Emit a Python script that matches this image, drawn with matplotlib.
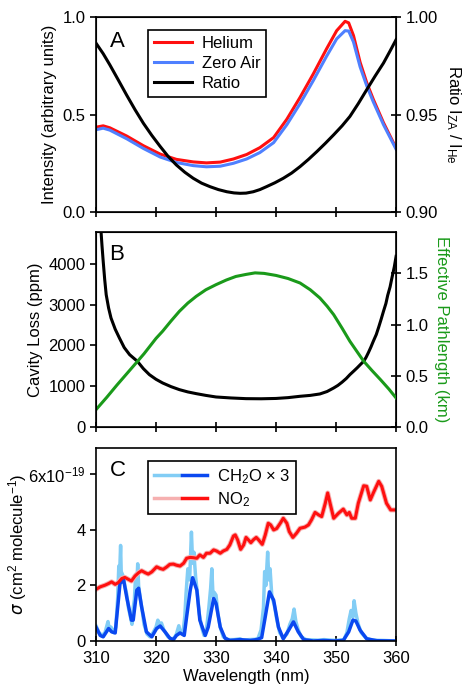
import matplotlib
matplotlib.use("Agg")
import matplotlib.pyplot as plt
from matplotlib.lines import Line2D
from matplotlib.legend_handler import HandlerTuple
from matplotlib.ticker import FixedLocator, FuncFormatter

plt.rcParams['font.family'] = ['Liberation Sans', 'DejaVu Sans']
plt.rcParams['mathtext.default'] = 'regular'
plt.rcParams['font.size'] = 12

# --- panel A: lamp spectra and ratio ---
wl_a = [310.0, 311.2, 312.3, 315.1, 317.9, 320.7, 323.4, 326.2, 328.4, 330.7, 332.9,
        335.1, 337.3, 339.6, 341.8, 344.0, 346.2, 348.4, 350.1, 351.5, 352.1, 352.9,
        354.0, 355.1, 356.2, 357.9, 360.0]
helium = [0.435, 0.442, 0.432, 0.390, 0.340, 0.297, 0.270, 0.257, 0.252, 0.256, 0.272,
          0.295, 0.330, 0.382, 0.476, 0.588, 0.708, 0.836, 0.930, 0.978, 0.970, 0.905,
          0.768, 0.664, 0.578, 0.458, 0.328]
zero_air = [0.422, 0.430, 0.420, 0.376, 0.326, 0.282, 0.254, 0.238, 0.232, 0.235, 0.250,
            0.272, 0.305, 0.356, 0.448, 0.556, 0.674, 0.798, 0.888, 0.930, 0.928, 0.872,
            0.745, 0.648, 0.565, 0.448, 0.322]
wl_ratio = [310.0, 311.2, 312.3, 313.7, 315.1, 316.5, 317.9, 319.3, 320.7, 322.0, 323.4,
            324.8, 326.2, 327.6, 329.0, 330.4, 331.8, 333.0, 334.0, 335.0, 336.2, 337.3,
            338.4, 339.8, 341.2, 342.6, 344.0, 345.4, 346.8, 348.2, 349.6, 351.0, 352.3,
            353.7, 355.1, 356.5, 357.9, 359.0, 360.0]
ratio = [0.9866, 0.9812, 0.9755, 0.9678, 0.9600, 0.9525, 0.9455, 0.9393, 0.9336, 0.9286,
         0.9241, 0.9204, 0.9173, 0.9148, 0.9130, 0.9115, 0.9104, 0.9098, 0.9096, 0.9097,
         0.9104, 0.9115, 0.9130, 0.9150, 0.9173, 0.9200, 0.9233, 0.9270, 0.9310, 0.9352,
         0.9396, 0.9442, 0.9490, 0.9556, 0.9627, 0.9697, 0.9764, 0.9826, 0.9884]

# --- panel B: cavity loss and effective pathlength ---
wl_loss = [310.6, 310.8, 311.0, 311.2, 311.45, 311.7, 312.1, 312.5, 313.2, 313.9, 314.7,
           315.6, 316.9, 317.9, 318.9, 320.0, 321.1, 322.5, 323.9, 325.3, 326.7, 328.3,
           330.0, 332.5, 335.0, 337.5, 340.0, 342.0, 344.0, 345.7, 347.3, 348.5, 349.6,
           350.3, 351.0, 351.7, 352.3, 353.0, 353.5, 354.1, 354.6, 355.0, 355.4, 355.8,
           356.2, 356.7, 357.1, 357.5, 357.9, 358.3, 358.6, 359.0, 359.3, 359.7, 360.0]
loss = [5200, 4880, 4450, 4066, 3620, 3247, 2920, 2675, 2400, 2184, 1950, 1775, 1611,
        1430, 1284, 1170, 1080, 990, 916, 860, 818, 775, 736, 712, 695, 692, 700, 720,
        753, 775, 810, 870, 957, 1020, 1100, 1190, 1284, 1380, 1450, 1540, 1611, 1710,
        1830, 1960, 2103, 2270, 2450, 2640, 2840, 3030, 3230, 3440, 3656, 3930, 4189]
wl_path = [310.0, 311.8, 313.5, 315.2, 316.9, 318.0, 319.0, 320.0, 321.1, 322.5, 323.9,
           325.3, 326.7, 328.3, 330.0, 331.7, 333.3, 335.0, 336.5, 338.0, 340.0, 342.0,
           344.0, 345.7, 347.3, 348.5, 349.6, 351.0, 352.3, 353.5, 354.6, 356.0, 357.4,
           358.8, 360.0]
pathlength = [0.169, 0.29, 0.41, 0.525, 0.64, 0.715, 0.79, 0.865, 0.935, 1.035, 1.13,
              1.21, 1.276, 1.34, 1.39, 1.435, 1.47, 1.49, 1.505, 1.50, 1.48, 1.45, 1.406,
              1.34, 1.26, 1.18, 1.097, 0.965, 0.837, 0.735, 0.642, 0.55, 0.462, 0.37, 0.283]

# --- panel C: cross sections (units of 1e-19 cm2 molecule-1) ---
wl_ch2o = [310.0, 310.7, 311.2, 312.1, 312.6, 313.2, 314.0, 314.6, 315.1, 315.9, 316.2,
           316.8, 317.1, 317.6, 318.4, 319.3, 320.1, 320.7, 321.5, 322.3, 322.9, 323.4,
           324.0, 324.7, 325.1, 325.7, 326.1, 326.8, 327.3, 328.2, 328.7, 329.6, 330.0,
           330.7, 331.5, 332.3, 334.0, 335.7, 336.8, 337.6, 338.2, 338.9, 339.6, 340.4,
           341.2, 342.1, 342.9, 343.7, 344.6, 346.2, 347.9, 349.6, 351.2, 352.1, 352.8,
           353.3, 354.0, 355.1, 356.8, 360.0]
ch2o_smooth = [0.50, 0.20, 0.15, 0.45, 0.33, 0.29, 2.07, 2.20, 1.60, 0.75, 0.75, 1.83,
               1.90, 1.23, 0.33, 0.15, 0.45, 0.54, 0.33, 0.10, 0.05, 0.20, 0.29, 0.20,
               0.87, 1.83, 2.28, 1.83, 0.75, 0.20, 0.50, 1.53, 1.35, 0.50, 0.10, 0.02,
               0.05, 0.02, 0.05, 0.12, 0.87, 1.77, 1.47, 0.50, 0.08, 0.39, 0.69, 0.33,
               0.05, 0.00, 0.02, 0.00, 0.02, 0.33, 0.75, 0.72, 0.39, 0.08, 0.01, 0.00]
wl_ch2o_hr = [310.0, 310.5, 311.0, 311.5, 312.0, 312.2, 312.5, 313.0, 313.3, 313.6, 313.8,
              313.9, 314.1, 314.2, 314.4, 314.6, 314.8, 315.1, 315.4, 315.7, 316.0, 316.2,
              316.4, 316.6, 316.8, 316.95, 317.1, 317.4, 317.7, 318.0, 318.5, 319.0, 319.5,
              320.0, 320.3, 320.6, 320.9, 321.3, 322.0, 322.5, 323.0, 323.4, 323.8, 324.1,
              324.5, 324.8, 325.0, 325.3, 325.6, 325.9, 326.1, 326.3, 326.6, 326.9, 327.2,
              327.6, 328.0, 328.4, 328.8, 329.1, 329.3, 329.5, 329.7, 330.0, 330.3, 330.7,
              331.2, 332.0, 333.0, 334.0, 334.5, 335.5, 336.5, 337.0, 337.5, 337.9, 338.1,
              338.3, 338.6, 338.8, 339.0, 339.3, 339.7, 340.1, 340.6, 341.2, 341.8, 342.3,
              342.7, 343.0, 343.3, 343.7, 344.2, 345.0, 347.0, 348.0, 350.0, 351.3, 351.8,
              352.2, 352.5, 352.8, 353.0, 353.3, 353.7, 354.2, 355.0, 356.0, 358.0, 360.0]
ch2o_hr = [0.55, 0.30, 0.20, 0.30, 0.70, 0.45, 0.50, 0.30, 0.50, 1.50, 2.70, 2.20, 3.44,
           2.50, 2.40, 2.30, 2.00, 1.70, 1.20, 0.90, 0.60, 1.20, 1.50, 2.40, 2.00, 2.78,
           2.00, 1.50, 1.10, 0.60, 0.25, 0.15, 0.30, 0.50, 0.75, 0.60, 0.65, 0.40, 0.15,
           0.08, 0.10, 0.25, 0.55, 0.30, 0.30, 0.90, 1.70, 2.60, 2.20, 3.92, 2.80, 3.20,
           2.30, 1.70, 1.00, 0.50, 0.20, 0.40, 1.20, 1.90, 2.60, 1.60, 1.75, 1.65, 1.00,
           0.50, 0.15, 0.05, 0.05, 0.08, 0.03, 0.05, 0.06, 0.10, 0.40, 1.20, 2.50, 2.00,
           3.20, 2.20, 2.60, 1.60, 1.30, 0.80, 0.30, 0.10, 0.25, 0.60, 0.80, 1.15, 0.70,
           0.40, 0.15, 0.05, 0.03, 0.05, 0.02, 0.05, 0.30, 0.80, 1.10, 0.85, 1.45, 1.00,
           0.60, 0.30, 0.10, 0.03, 0.02, 0.00]
wl_no2 = [310.0, 310.7, 311.5, 312.1, 312.6, 313.2, 313.7, 314.3, 314.8, 315.4, 315.9,
          316.5, 317.1, 317.6, 318.2, 318.7, 319.3, 320.1, 320.7, 321.2, 321.8, 322.3,
          322.9, 323.4, 324.0, 324.6, 325.1, 325.7, 326.2, 326.8, 327.3, 327.9, 328.4,
          329.0, 329.6, 330.1, 330.7, 331.2, 331.8, 332.3, 332.9, 333.2, 333.6, 334.1,
          334.6, 335.0, 335.4, 335.8, 336.2, 336.7, 337.1, 337.7, 338.2, 338.7, 339.1,
          339.6, 340.1, 340.7, 341.2, 341.8, 342.2, 342.8, 343.4, 344.0, 344.8, 345.4,
          345.9, 346.5, 347.1, 347.6, 348.2, 348.6, 349.0, 349.6, 350.4, 351.2, 351.8,
          352.2, 352.6, 353.2, 353.7, 354.6, 355.1, 355.7, 356.2, 357.1, 357.6, 358.4,
          359.1, 360.0]
no2 = [1.86, 1.95, 2.01, 2.07, 2.13, 2.04, 2.10, 2.25, 2.29, 2.22, 2.16, 2.34, 2.46, 2.53,
       2.46, 2.41, 2.49, 2.67, 2.61, 2.58, 2.67, 2.76, 2.77, 2.73, 2.70, 2.80, 2.98, 3.01,
       3.00, 2.98, 3.10, 3.01, 3.16, 3.16, 3.28, 3.24, 3.16, 3.24, 3.30, 3.46, 3.78, 3.82,
       3.64, 3.30, 3.46, 3.73, 3.64, 3.54, 3.64, 3.73, 3.64, 3.48, 3.82, 4.24, 4.18, 4.00,
       4.05, 4.24, 4.42, 4.24, 3.94, 3.73, 3.88, 4.06, 4.10, 4.18, 4.36, 4.63, 4.54, 4.48,
       4.96, 5.33, 4.96, 4.42, 4.60, 4.75, 4.54, 4.63, 4.42, 4.42, 4.96, 5.59, 5.57, 5.08,
       5.33, 5.75, 5.57, 4.96, 4.72, 4.72]

xticks = [310, 320, 330, 340, 350, 360]

RED = '#ff1010'
ZA_BLUE = '#4f80ff'
GREEN = '#1a9a1a'
DARK_BLUE = '#0a48f0'
LIGHT_BLUE = '#82cdf5'
PINK = '#f6b0b0'

fig = plt.figure(figsize=(4.66, 6.92), dpi=100)
left, width = 0.206, 0.644
axA = fig.add_axes([left, 0.6936, width, 0.2818])
axB = fig.add_axes([left, 0.3830, width, 0.2817])
axC = fig.add_axes([left, 0.0737, width, 0.2789])


def style(ax, labels=False):
    ax.set_xlim(310, 360)
    ax.set_xticks(xticks)
    ax.tick_params(axis='x', direction='inout', length=7, width=1.2, pad=4,
                   labelbottom=labels)
    ax.tick_params(axis='y', direction='out', length=4, width=1.2)
    for s in ax.spines.values():
        s.set_linewidth(1.2)


# panel A
style(axA)
axA.plot(wl_a, helium, color=RED, lw=2.2, label='Helium')
axA.plot(wl_a, zero_air, color=ZA_BLUE, lw=2.2, label='Zero Air')
axA.set_ylim(0, 1.0)
axA.set_yticks([0.0, 0.5, 1.0])
axA.set_yticklabels(['0.0', '0.5', '1.0'])
axA.set_ylabel('Intensity (arbitrary units)')
axA2 = axA.twinx()
axA2.plot(wl_ratio, ratio, color='black', lw=2.2, label='Ratio')
axA2.set_ylim(0.90, 1.00)
axA2.set_yticks([0.90, 0.95, 1.00])
axA2.set_yticklabels(['0.90', '0.95', '1.00'])
axA2.tick_params(axis='y', direction='inout', length=7, width=1.2)
axA2.set_ylabel(r'Ratio I$_{ZA}$ / I$_{He}$', rotation=-90, va='bottom', labelpad=4)
axA.text(0.045, 0.93, 'A', transform=axA.transAxes, fontsize=16, va='top')
h1, l1 = axA.get_legend_handles_labels()
h2, l2 = axA2.get_legend_handles_labels()
leg = axA2.legend(h1 + h2, l1 + l2, loc='upper left', bbox_to_anchor=(0.145, 0.975),
                  fancybox=False, edgecolor='black', framealpha=1, handlelength=2.3,
                  borderpad=0.35, labelspacing=0.3, handletextpad=0.6, fontsize=12)
leg.get_frame().set_linewidth(1.2)

# panel B
style(axB)
axB.plot(wl_loss, loss, color='black', lw=2.2)
axB.set_ylim(0, 4785)
axB.set_yticks([0, 1000, 2000, 3000, 4000])
axB.set_ylabel('Cavity Loss (ppm)')
axB2 = axB.twinx()
axB2.plot(wl_path, pathlength, color=GREEN, lw=2.2)
axB2.set_ylim(0, 1.904)
axB2.set_yticks([0.0, 0.5, 1.0, 1.5])
axB2.set_yticklabels(['0.0', '0.5', '1.0', '1.5'])
axB2.tick_params(axis='y', direction='inout', length=7, width=1.2)
axB2.set_ylabel('Effective Pathlength (km)', color=GREEN, rotation=-90, va='bottom',
                labelpad=4)
axB.text(0.045, 0.94, 'B', transform=axB.transAxes, fontsize=16, va='top')

# panel C
style(axC, labels=True)
axC.plot(wl_ch2o_hr, ch2o_hr, color=LIGHT_BLUE, lw=2.5)
axC.plot(wl_no2, no2, color=PINK, lw=3.6)
axC.plot(wl_ch2o, ch2o_smooth, color=DARK_BLUE, lw=2.5)
axC.plot(wl_no2, no2, color=RED, lw=2.2)
axC.set_ylim(0, 6.95)
axC.yaxis.set_major_locator(FixedLocator([0, 2, 4, 6]))
axC.yaxis.set_major_formatter(FuncFormatter(
    lambda v, p: r'6x10$^{-19}$' if v == 6 else f'{v:.0f}'))
axC.set_xlabel('Wavelength (nm)', labelpad=2)
axC.set_ylabel(r'$\mathit{\sigma}$ (cm$^2$ molecule$^{-1}$)')
axC.yaxis.set_label_coords(-0.222, 0.5)
axC.text(0.045, 0.94, 'C', transform=axC.transAxes, fontsize=16, va='top')
ch_h = (Line2D([], [], color=LIGHT_BLUE, lw=2.5), Line2D([], [], color=DARK_BLUE, lw=2.5))
no_h = (Line2D([], [], color=PINK, lw=2.5), Line2D([], [], color=RED, lw=2.5))
legC = axC.legend([ch_h, no_h], ['CH$_2$O × 3', 'NO$_2$'], loc='upper left',
                  bbox_to_anchor=(0.145, 0.975), fancybox=False, edgecolor='black',
                  framealpha=1, handlelength=3.2, borderpad=0.35, labelspacing=0.25,
                  handletextpad=0.6, fontsize=12,
                  handler_map={tuple: HandlerTuple(ndivide=None, pad=0.2)})
legC.get_frame().set_linewidth(1.2)

fig.savefig('out.png', dpi=100)
